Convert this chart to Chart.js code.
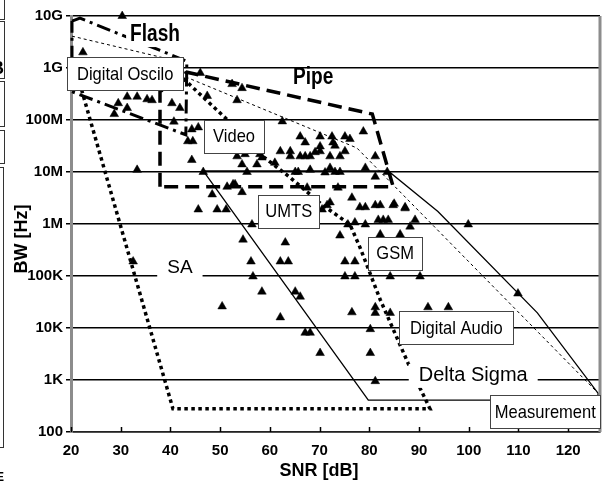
<!DOCTYPE html>
<html>
<head>
<meta charset="utf-8">
<script src="https://cdn.jsdelivr.net/npm/chart.js@4.4.1/dist/chart.umd.min.js"></script>
<style>
  html, body { margin: 0; padding: 0; background: #fff; }
</style>
</head>
<body>
<canvas id="bwChart" width="613" height="485"></canvas>
<script>
// ejes
const xTickValues = [20, 30, 40, 50, 60, 70, 80, 90, 100, 110, 120];
const yTickValues = [1e2, 1e3, 1e4, 1e5, 1e6, 1e7, 1e8, 1e9, 1e10];
const yTickLabels = ['100', '1K', '10K', '100K', '1M', '10M', '100M', '1G', '10G'];

// convertidores publicados (SNR en dB, BW en Hz)
const snrValues = [
  30.3, 22.4, 31.3, 33.3, 35.3, 36.3, 29.5, 31.3, 28.7, 40.3,
  41.9, 40.7, 47.4, 53.4, 46.0, 52.4, 54.4, 44.3, 45.6, 43.5,
  44.5, 44.3, 33.3, 46.6, 53.4, 51.4, 52.6, 48.4, 62.5, 78.8,
  66.1, 67.1, 70.1, 72.5, 72.7, 73.1, 75.1, 76.1, 70.1, 70.1,
  62.1, 64.1, 64.1, 66.1, 67.1, 68.1, 69.1, 72.1, 74.1, 75.1,
  81.2, 55.0, 58.0, 58.4, 54.4, 57.4, 61.0, 65.1, 65.7, 68.1,
  71.1, 72.1, 73.1, 74.1, 79.2, 81.2, 83.6, 53.0, 54.4, 67.5,
  73.7, 76.5, 79.2, 78.1, 81.2, 82.2, 84.8, 87.2, 70.5, 71.5,
  72.1, 75.7, 77.1, 79.2, 81.8, 82.8, 83.8, 56.4, 55.4, 45.6,
  49.4, 51.2, 54.6, 63.1, 56.2, 62.1, 63.7, 56.6, 58.4, 65.1,
  66.1, 50.4, 62.1, 74.1, 82.2, 86.2, 75.1, 77.1, 75.1, 77.1,
  84.2, 90.2, 76.5, 81.2, 81.2, 84.2, 91.8, 95.9, 67.1, 68.1,
  80.2, 70.1, 80.2, 81.2, 85.0, 87.2, 89.2, 88.2, 99.9, 109.9,
  32.5
];
const bwValues = [
  1e10, 2e9, 2.8e8, 2.8e8, 2.5e8, 2.4e8, 2.1e8, 1.7e8, 1.3e8, 2.1e8,
  1.7e8, 9.3e7, 2.9e8, 2.4e8, 8e8, 4.9e8, 4.1e8, 6.6e7, 7.2e7, 3.9e7,
  3.9e7, 1.7e7, 1.1e7, 1e7, 2e7, 5.2e6, 5.8e6, 3.7e6, 9.4e7, 6e7,
  4.8e7, 3.7e7, 4.8e7, 4.8e7, 3.7e7, 3.2e7, 4.8e7, 4.3e7, 3.1e7, 2.5e7,
  2.5e7, 2.5e7, 2e7, 2e7, 2e7, 2e7, 2.4e7, 2e7, 2e7, 2.5e7,
  2e7, 2.2e7, 2.2e7, 1.9e7, 1.4e7, 1.4e7, 1.5e7, 1e7, 1e7, 1.1e7,
  9.8e6, 1.2e7, 1e7, 1e7, 1.2e7, 8.1e6, 1e7, 5.8e6, 4.1e6, 5e6,
  5e6, 3.2e6, 2.1e6, 2.1e6, 2.3e6, 2.3e6, 2.3e6, 2.1e6, 1.9e6, 2.3e6,
  2.6e6, 9.8e5, 1.07e6, 9.8e5, 1.2e6, 1.2e6, 1.2e6, 9.8e5, 1e7, 1.9e6,
  1.9e6, 1.9e6, 5e5, 4.4e5, 1.9e5, 1.9e5, 1.9e5, 9.8e4, 5e4, 5e4,
  4e4, 2.6e4, 1.6e4, 6e5, 6.3e5, 6.3e5, 1.9e5, 1.9e5, 9.8e4, 9.8e4,
  9.8e4, 9.8e4, 2e4, 2.5e4, 1.95e4, 1.95e4, 2.5e4, 2.5e4, 8.1e3, 8.1e3,
  9.5e3, 3.3e3, 3.3e3, 950, 2.45e6, 2e6, 1.2e6, 8.9e5, 9.8e5, 4.6e4,
  1.9e5
];

// contornos de cada familia
const flashSNR = [20.2, 21.8, 43.3, 43.1, 20.2, 20.2];
const flashBW = [8e9, 9.1e9, 1.35e9, 5.2e7, 3.5e8, 8e9];
const pipeSNR = [37.9, 37.9, 43.3, 80.6, 84.8, 37.9];
const pipeBW = [5.2e6, 3.5e8, 8.3e8, 1.3e8, 5.2e6, 5.2e6];
const limitSNR = [20.2, 41.5, 43.3, 77.5, 126.0];
const limitBW = [4.1e9, 1.35e9, 6.6e8, 2.9e7, 5.6e2];
const deltaSNR = [46.6, 83.8, 93.8, 113.8, 126.0, 126.0, 79.8, 46.6];
const deltaBW = [1.05e7, 1.05e7, 1.74e6, 1.95e4, 5.6e2, 4.1e2, 4.1e2, 1.05e7];
const saSNR = [21.8, 41.9, 51.4, 58.6, 64.1, 70.5, 76.1, 78.1, 82.2, 87.8, 92.2, 40.5, 21.8];
const saBW = [4.9e8, 7.2e8, 1.02e8, 2e7, 7.8e6, 2.35e6, 9.8e5, 3.6e5, 3.5e4, 2.1e3, 2.8e2, 2.8e2, 4.9e8];

// etiquetas
const boxText = ['Digital Oscilo', 'Video', 'UMTS', 'GSM', 'Digital Audio', 'Measurement'];
const boxSNR = [30.9, 52.8, 63.8, 85.2, 97.5, 115.4];
const boxBW = [7.7e8, 4.9e7, 1.77e6, 2.75e5, 1.01e4, 248];
const boxW = [116, 60, 61, 54, 114, 110];

const freeText = ['Flash', 'Pipe', 'SA', 'Delta Sigma'];
const freeSNR = [36.9, 68.7, 41.9, 100.9];
const freeBW = [4.3e9, 6.6e8, 1.41e5, 1.2e3];

const FONT = '"Liberation Sans", Arial, Helvetica, sans-serif';

function pts(xs, ys) {
    return xs.map((x, i) => ({ x: x, y: ys[i] }));
}

function outline(xs, ys, width, dash) {
    return {
        data: pts(xs, ys),
        showLine: true,
        borderColor: '#000',
        borderWidth: width,
        borderDash: dash,
        pointRadius: 0,
        fill: false,
        tension: 0,
        clip: false,
        order: 1
    };
}

function drawText(ctx, text, cx, cy, font, sx) {
    ctx.save();
    ctx.font = font;
    ctx.translate(cx, cy);
    ctx.scale(sx, 1);
    ctx.textAlign = 'center';
    ctx.textBaseline = 'middle';
    ctx.fillStyle = '#000';
    ctx.fillText(text, 0, 0);
    ctx.restore();
}

const overlay = {
    id: 'overlay',
    beforeDraw(chart) {
        const ctx = chart.ctx;
        ctx.save();
        ctx.fillStyle = '#fff';
        ctx.fillRect(0, 0, chart.width, chart.height);
        ctx.restore();
    },
    afterDatasetsDraw(chart) {
        const ctx = chart.ctx;
        const xs = chart.scales.x, ys = chart.scales.y, a = chart.chartArea;
        ctx.save();

        // borde derecho gris
        ctx.strokeStyle = '#8c8c8c';
        ctx.lineWidth = 3;
        ctx.beginPath();
        ctx.moveTo(a.right, a.top);
        ctx.lineTo(a.right, a.bottom);
        ctx.stroke();

        // marcas hacia dentro en el eje x
        ctx.strokeStyle = '#000';
        ctx.lineWidth = 1.5;
        xTickValues.forEach(v => {
            const px = Math.round(xs.getPixelForValue(v)) + 0.5;
            ctx.beginPath();
            ctx.moveTo(px, a.bottom);
            ctx.lineTo(px, a.bottom - 5);
            ctx.stroke();
        });

        // textos sueltos
        const freeFont = ['bold 23px ' + FONT, 'bold 23px ' + FONT, '19px ' + FONT, '20px ' + FONT];
        const freeScale = [0.83, 0.83, 1, 1];
        const freePad = [4, -1, 10, 10];
        freeText.forEach((t, i) => {
            const cx = xs.getPixelForValue(freeSNR[i]);
            const cy = ys.getPixelForValue(freeBW[i]);
            ctx.font = freeFont[i];
            const w = ctx.measureText(t).width * freeScale[i];
            if (freePad[i] >= 0) {
                ctx.fillStyle = '#fff';
                ctx.fillRect(cx - w / 2 - freePad[i], cy - 12, w + 2 * freePad[i], 24);
            }
            drawText(ctx, t, cx, cy, freeFont[i], freeScale[i]);
        });

        // cajas
        boxText.forEach((t, i) => {
            const cx = xs.getPixelForValue(boxSNR[i]);
            const cy = ys.getPixelForValue(boxBW[i]);
            const w = boxW[i], h = 33;
            const l = Math.round(cx - w / 2) + 0.5, tp = Math.round(cy - h / 2) + 0.5;
            ctx.fillStyle = '#fff';
            ctx.fillRect(l, tp, w, h);
            ctx.strokeStyle = '#444';
            ctx.lineWidth = 1;
            ctx.strokeRect(l, tp, w, h);
            drawText(ctx, t, cx, cy + 1, '19px ' + FONT, 0.87);
        });

        // titulos de ejes
        drawText(ctx, 'SNR [dB]', 319, 471, 'bold 18px ' + FONT, 1);
        ctx.save();
        ctx.translate(22, 239);
        ctx.rotate(-Math.PI / 2);
        drawText(ctx, 'BW [Hz]', 0, 0, 'bold 18px ' + FONT, 1);
        ctx.restore();

        // restos del borde izquierdo de la imagen original
        ctx.strokeStyle = '#333';
        ctx.lineWidth = 1;
        [[-5, 19], [21, 78], [81, 126], [130, 163]].forEach(r => {
            ctx.strokeRect(-10.5, r[0] + 0.5, 15, r[1] - r[0]);
        });
        ctx.strokeRect(-10.5, 167.5, 14, 280);
        ctx.fillStyle = '#000';
        ctx.font = 'bold 18px ' + FONT;
        ctx.fillText('B', -9, 74);
        ctx.font = 'bold 12px ' + FONT;
        ctx.fillText('E', -4, 481);

        ctx.restore();
    }
};

const tickFont = { family: FONT, size: 15, weight: 'bold' };

new Chart(document.getElementById('bwChart').getContext('2d'), {
    type: 'scatter',
    data: {
        datasets: [
            {
                data: pts(snrValues, bwValues),
                pointStyle: 'triangle',
                pointRadius: 5,
                backgroundColor: '#000',
                borderColor: '#000',
                borderWidth: 0.5,
                clip: false,
                order: 0
            },
            outline(flashSNR, flashBW, 3, [14, 5, 3, 5]),
            outline(pipeSNR, pipeBW, 3.5, [14, 7]),
            outline(limitSNR, limitBW, 1, [3, 3]),
            outline(deltaSNR, deltaBW, 1.3, []),
            outline(saSNR, saBW, 3.5, [3.5, 3.5])
        ]
    },
    options: {
        responsive: false,
        animation: false,
        devicePixelRatio: 1,
        layout: { padding: { top: 16, right: 13, bottom: 0, left: 0 } },
        plugins: { legend: { display: false }, tooltip: { enabled: false } },
        scales: {
            x: {
                type: 'linear',
                min: 20,
                max: 126.4,
                afterBuildTicks: s => { s.ticks = xTickValues.map(v => ({ value: v })); },
                afterFit: s => { s.height = 53; },
                grid: { display: false, drawTicks: false },
                border: { display: true, color: '#222', width: 1.5 },
                ticks: { color: '#000', font: tickFont, padding: 10, maxRotation: 0, autoSkip: false }
            },
            y: {
                type: 'logarithmic',
                min: 1e2,
                max: 1e10,
                afterBuildTicks: s => { s.ticks = yTickValues.map(v => ({ value: v })); },
                afterFit: s => { s.width = 71; },
                grid: { color: '#000', lineWidth: 1.5, drawTicks: true, tickLength: 5 },
                border: { color: '#8c8c8c', width: 3 },
                ticks: {
                    color: '#000',
                    font: tickFont,
                    padding: 3,
                    autoSkip: false,
                    callback: (v, i) => yTickLabels[i]
                }
            }
        }
    },
    plugins: [overlay]
});
</script>
</body>
</html>
